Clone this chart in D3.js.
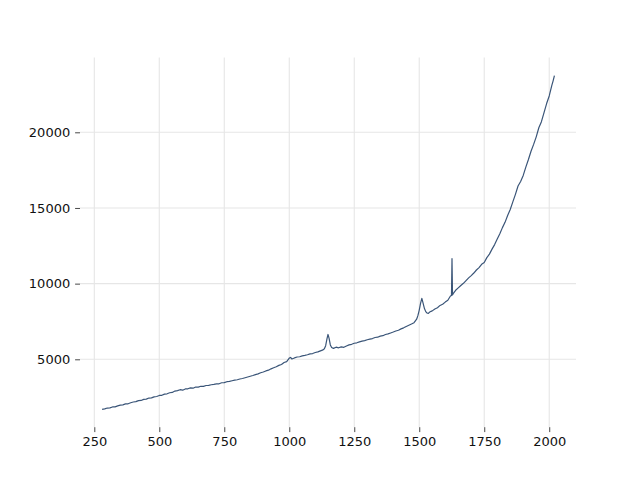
<!DOCTYPE html>
<html>
<head>
<meta charset="utf-8">
<script src="https://cdn.jsdelivr.net/npm/d3@7"></script>
<style>
  html, body { margin: 0; padding: 0; background: #fff; }
  svg { display: block; }
  text { font-family: "DejaVu Sans", sans-serif; }
</style>
</head>
<body>
<script>
const wavenumber = [
  280,290,300,310,320,330,340,350,360,370,380,390,400,410,420,430,440,450,460,470,
  480,490,500,510,520,530,540,550,560,570,580,590,600,610,620,630,640,650,660,670,
  680,690,700,710,720,730,740,750,760,770,780,790,800,810,820,830,840,850,860,870,
  880,890,900,910,920,930,940,950,960,970,980,990,1000,1005,1010,1020,1030,1040,1050,1060,
  1070,1080,1090,1100,1110,1120,1130,1135,1140,1145,1149,1153,1158,1163,1170,1180,1190,1200,1210,1220,
  1230,1240,1250,1260,1270,1280,1290,1300,1310,1320,1330,1340,1350,1360,1370,1380,1390,1400,1410,1420,
  1430,1440,1450,1460,1470,1480,1490,1495,1500,1505,1510,1515,1520,1525,1530,1535,1540,1550,1560,1570,
  1580,1590,1600,1610,1620,1624,1626,1628,1632,1640,1650,1660,1670,1680,1690,1700,1710,1720,1730,1740,
  1750,1760,1770,1780,1790,1800,1810,1820,1830,1840,1850,1860,1870,1880,1890,1900,1910,1920,1930,1940,
  1950,1960,1970,1980,1990,2000,2010,2015,2020
];
const intensity = [
  1690,1720,1780,1790,1850,1860,1920,1970,1990,2050,2060,2130,2180,2200,2270,2280,2350,2370,2440,2450,
  2520,2540,2610,2620,2700,2720,2790,2810,2900,2930,2990,2960,3040,3050,3110,3090,3170,3160,3220,3210,
  3270,3280,3320,3340,3370,3380,3450,3460,3520,3540,3580,3620,3650,3700,3730,3780,3830,3880,3930,3990,
  4040,4110,4160,4230,4280,4370,4440,4510,4600,4660,4790,4850,5080,5120,5020,5090,5150,5170,5230,5260,
  5300,5360,5380,5450,5490,5560,5620,5700,5900,6350,6640,6400,5950,5780,5720,5800,5760,5820,5790,5880,
  5950,5990,6060,6090,6150,6200,6230,6290,6330,6370,6440,6460,6530,6560,6640,6680,6740,6800,6870,6920,
  7010,7080,7170,7250,7330,7420,7650,7900,8250,8700,9030,8700,8350,8150,8060,8030,8120,8200,8320,8410,
  8560,8640,8780,8900,9180,9220,11650,9250,9380,9560,9720,9880,10020,10200,10380,10530,10700,10900,11060,11280,
  11400,11720,11950,12280,12580,12950,13300,13700,14050,14500,14900,15400,15900,16450,16750,17150,17700,18200,18750,19200,
  19700,20300,20700,21300,21900,22400,23100,23400,23750
];
const xTicks = [250, 500, 750, 1000, 1250, 1500, 1750, 2000];
const yTicks = [5000, 10000, 15000, 20000];

const W = 640, H = 480;
const m = { left: 80, right: 576, top: 57.6, bottom: 427.2 };

const svg = d3.select("body").append("svg").attr("width", W).attr("height", H);

const x = d3.scaleLinear().domain([195, 2103]).range([m.left, m.right]);
const y = d3.scaleLinear().domain([513, 24936]).range([m.bottom, m.top]);

// grid
const grid = svg.append("g");
grid.selectAll("line.vx").data(xTicks).join("line")
  .attr("x1", d => x(d)).attr("x2", d => x(d))
  .attr("y1", m.top).attr("y2", m.bottom)
  .attr("stroke", "#e6e6e6").attr("stroke-width", 1.1);
grid.selectAll("line.hy").data(yTicks).join("line")
  .attr("x1", m.left).attr("x2", m.right)
  .attr("y1", d => y(d)).attr("y2", d => y(d))
  .attr("stroke", "#e6e6e6").attr("stroke-width", 1.1);

// axes
const xAxis = d3.axisBottom(x).tickValues(xTicks).tickSize(4.9).tickPadding(4.9).tickFormat(d3.format("d"));
const yAxis = d3.axisLeft(y).tickValues(yTicks).tickSize(4.9).tickPadding(4.9).tickFormat(d3.format("d"));

const gx = svg.append("g").attr("transform", `translate(0,${m.bottom})`).call(xAxis);
const gy = svg.append("g").attr("transform", `translate(${m.left},0)`).call(yAxis);
[gx, gy].forEach(g => {
  g.select(".domain").remove();
  g.selectAll(".tick line").attr("stroke", "#333").attr("stroke-width", 0.9);
  g.selectAll(".tick text").attr("fill", "#111").style("font-size", "13px")
    .style("font-family", "'DejaVu Sans', sans-serif");
});

// line
const pts = wavenumber.map((w, i) => [w, intensity[i]]);
svg.append("path")
  .datum(pts)
  .attr("fill", "none")
  .attr("stroke", "#3a5578")
  .attr("stroke-width", 1.2)
  .attr("stroke-linejoin", "round")
  .attr("d", d3.line().x(d => x(d[0])).y(d => y(d[1])));
</script>
</body>
</html>
